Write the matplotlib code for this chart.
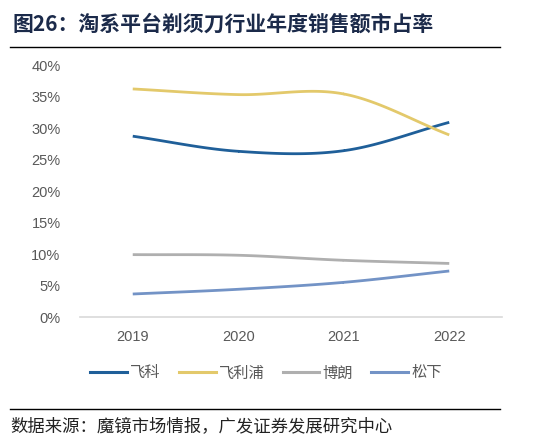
import numpy as np
import matplotlib
matplotlib.use("Agg")
import matplotlib.pyplot as plt
from matplotlib.lines import Line2D

plt.rcParams['font.family'] = ['Liberation Sans', 'Noto Sans CJK SC', 'DejaVu Sans']

years = ['2019', '2020', '2021', '2022']
feike = [28.7, 26.3, 26.4, 30.9]
philips = [36.2, 35.3, 35.4, 28.9]
braun = [9.9, 9.8, 9.0, 8.5]
panasonic = [3.65, 4.4, 5.5, 7.3]
series_names = ['飞科', '飞利浦', '博朗', '松下']
colors = ['#1F5F99', '#E3C96B', '#AFAFAF', '#7393C6']
yticks = [0, 5, 10, 15, 20, 25, 30, 35, 40]


def smooth(xs, ys, n=40):
    xs = np.asarray(xs, float)
    ys = np.asarray(ys, float)
    px = np.concatenate([[2 * xs[0] - xs[1]], xs, [2 * xs[-1] - xs[-2]]])
    py = np.concatenate([[2 * ys[0] - ys[1]], ys, [2 * ys[-1] - ys[-2]]])
    outx, outy = [], []
    for i in range(1, len(px) - 2):
        t = np.linspace(0, 1, n)
        p0, p1, p2, p3 = py[i - 1], py[i], py[i + 1], py[i + 2]
        yy = 0.5 * ((2 * p1) + (-p0 + p2) * t + (2 * p0 - 5 * p1 + 4 * p2 - p3) * t ** 2
                    + (-p0 + 3 * p1 - 3 * p2 + p3) * t ** 3)
        xx = px[i] + (px[i + 1] - px[i]) * t
        outx.extend(xx)
        outy.extend(yy)
    return np.array(outx), np.array(outy)


fig = plt.figure(figsize=(5.39, 4.44), dpi=100)
ax = fig.add_axes([80 / 539, 1 - 317 / 444, (502 - 80) / 539, (317 - 65) / 444])

x = np.arange(len(years))
for vals, c in zip([feike, philips, braun, panasonic], colors):
    sx, sy = smooth(x, vals)
    ax.plot(sx, sy, color=c, lw=2.0, solid_capstyle='butt')

ax.set_xlim(-0.5, 3.5)
ax.set_ylim(0, 40)
ax.set_yticks(yticks)
ax.set_yticklabels([f'{v}%' for v in yticks])
ax.set_xticks(x)
ax.set_xticklabels(years)
for s in ['top', 'right', 'left']:
    ax.spines[s].set_visible(False)
ax.spines['bottom'].set_color('#D9D9D9')
ax.spines['bottom'].set_linewidth(1.2)
ax.tick_params(axis='both', length=0, labelsize=10.5, colors='#595959')
ax.tick_params(axis='x', pad=9)
ax.tick_params(axis='y', pad=14)

handles = [Line2D([0], [0], color=c, lw=2.2) for c in colors]
leg = fig.legend(handles, series_names, loc='center', bbox_to_anchor=(266 / 539, 1 - 373 / 444),
                 ncol=4, frameon=False, handlelength=2.4, handletextpad=0.2, columnspacing=1.2,
                 prop={'family': ['Noto Sans CJK SC'], 'size': 11})
for t in leg.get_texts():
    t.set_color('#595959')

fig.text(12 / 539, 1 - 24 / 444, '图26：淘系平台剃须刀行业年度销售额市占率', fontsize=15,
         fontweight='bold', color='#1B2A4A', va='center', ha='left',
         family=['Noto Sans CJK SC', 'DejaVu Sans'])
fig.add_artist(Line2D([10 / 539, 500 / 539], [1 - 47 / 444, 1 - 47 / 444], color='black', lw=1.0))
fig.add_artist(Line2D([10 / 539, 500 / 539], [1 - 409 / 444, 1 - 409 / 444], color='black', lw=1.0))
fig.text(10 / 539, 1 - 426 / 444, '数据来源：魔镜市场情报，广发证券发展研究中心', fontsize=12.5,
         color='#222222', va='center', ha='left', family=['Noto Sans CJK SC', 'DejaVu Sans'])

fig.savefig('out.png', dpi=100)
